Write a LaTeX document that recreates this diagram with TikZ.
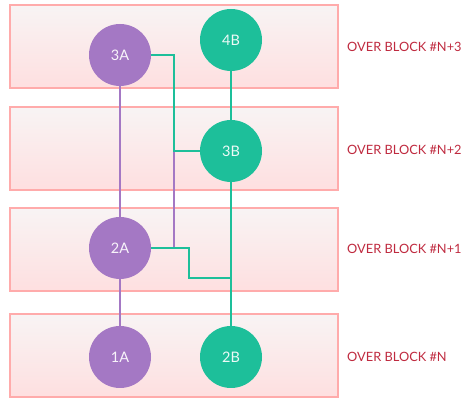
\documentclass[tikz,border=0pt]{standalone}
\usepackage{fontspec}
\setmainfont{Lato}
\usetikzlibrary{arrows}

\definecolor{blockline}{HTML}{FFABAB}
\definecolor{blocktop}{HTML}{F8F4F4}
\definecolor{blockbot}{HTML}{FEDFE0}
\definecolor{aside}{HTML}{A478C4}
\definecolor{bside}{HTML}{1DBF9A}
\definecolor{tagred}{HTML}{BF2A3F}

\begin{document}
\begin{tikzpicture}[x=1pt,y=-1pt,
    block/.style={draw=blockline,line width=1.8pt,top color=blocktop,bottom color=blockbot,
                  minimum width=328pt,minimum height=83pt,inner sep=0pt},
    tag/.style={anchor=west,text=tagred,font=\fontsize{12.8}{14}\selectfont,inner sep=0pt},
    avert/.style={circle,fill=aside,text=white!92!aside,minimum size=62pt,inner sep=0pt,font=\fontsize{14.5}{16}\selectfont},
    bvert/.style={circle,fill=bside,text=white!92!bside,minimum size=62pt,inner sep=0pt,font=\fontsize{14.5}{16}\selectfont},
    alink/.style={draw=aside,line width=1.4pt},
    blink/.style={draw=bside,line width=1.6pt}]
        \useasboundingbox (0,0) rectangle (464,398);
        % blocks
        \node[block] (blk3) at (174,46.5)  {};
        \node[block] (blk2) at (174,148.5) {};
        \node[block] (blk1) at (174,249.5) {};
        \node[block] (blk0) at (174,355.5) {};
        \node[tag]   (tag3) at (347,47)  {OVER BLOCK \#N+3};
        \node[tag]   (tag2) at (347,150) {OVER BLOCK \#N+2};
        \node[tag]   (tag1) at (347,249) {OVER BLOCK \#N+1};
        \node[tag]   (tag0) at (347,357) {OVER BLOCK \#N};
        % vertices
        \node[avert] (3A) at (120,55)  {3A};
        \node[bvert] (4B) at (231,40)  {4B};
        \node[bvert] (3B) at (231,151) {3B};
        \node[avert] (2A) at (120,248) {2A};
        \node[avert] (1A) at (120,357) {1A};
        \node[bvert] (2B) at (231,357) {2B};
        % joints
        \coordinate (j1) at (174,151);
        \coordinate (j2) at (174,248);
        \coordinate (j3) at (189,248);
        \coordinate (j4) at (231,278);
        % links
        \path[alink] (3A) -- (2A);
        \path[alink] (2A) -- (1A);
        \path[alink] (j1) -- (j2);
        \path[blink] (4B) -- (3B);
        \path[blink] (3B) -- (2B);
        \path[blink] (3A) -| (j1) -- (3B);
        \path[blink] (2A) -- (j3) |- (j4);
\end{tikzpicture}
\end{document}
